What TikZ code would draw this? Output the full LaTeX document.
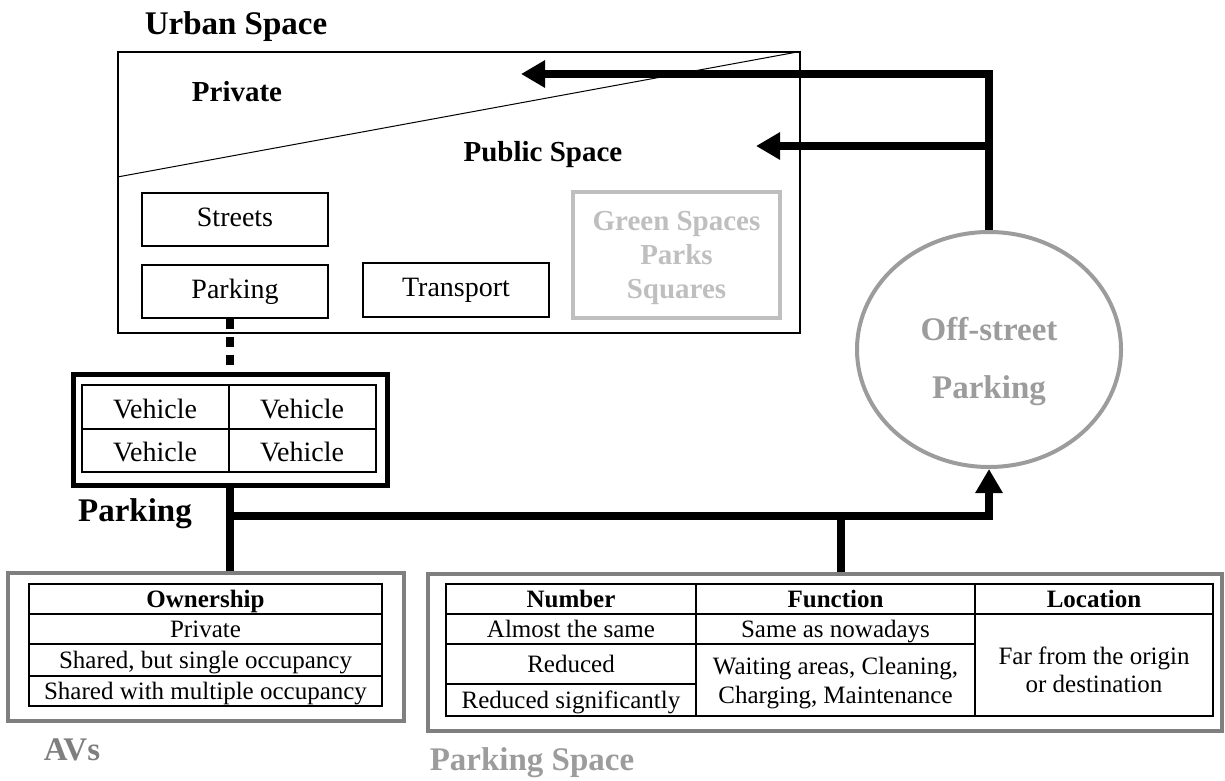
\documentclass[tikz,border=0pt]{standalone}
\usepackage{fontspec}
\setmainfont{Liberation Serif}
\usetikzlibrary{arrows.meta,positioning,shapes.geometric}
\definecolor{lightline}{HTML}{BFBFBF}
\definecolor{midline}{HTML}{9C9C9C}
\definecolor{darkline}{HTML}{7F7F7F}
\tikzset{
  box/.style={draw, line width=.6pt, inner sep=0pt},
  even/.style={text height=.68em, text depth=0pt},
  bigtitle/.style={even, yshift=-2pt, font=\fontsize{16.5}{18}\selectfont\bfseries},
  heading/.style={even, yshift=-1.5pt, font=\fontsize{14.5}{17}\selectfont\bfseries},
  boxtext/.style={even, font=\fontsize{14}{16}\selectfont},
  cell/.style={even, yshift=-.5pt, font=\fontsize{12.5}{14}\selectfont},
  cellhead/.style={even, yshift=-.5pt, font=\fontsize{12.5}{14}\selectfont\bfseries},
  flow/.style={line width=4pt},
  tip/.style={-{Triangle[length=12pt,width=13pt]}}
}
\begin{document}
\begin{tikzpicture}[x=.5pt,y=-.5pt]
\useasboundingbox (0,0) rectangle (1225,781);

% urban space
\node[box, minimum width=341pt, minimum height=140.5pt] (urban) at (459,192.5) {};
\draw[line width=.5pt] (urban.west |- 0,177) -- (urban.north east);
\node[bigtitle] (urbantitle) at (236,24) {Urban Space};
\node[heading] (private) at (237,92) {Private};
\node[heading] (public) at (543,152) {Public Space};
\node[box, boxtext, minimum width=93pt, minimum height=26.5pt] (streets) at (235,219.5) {Streets};
\node[box, boxtext, minimum width=93pt, minimum height=26.5pt] (parkbox) at (235,291.5) {Parking};
\node[box, boxtext, minimum width=93pt, minimum height=27pt] (transport) at (456,290) {Transport};
\node[draw=lightline, line width=2pt, minimum width=103.5pt, minimum height=63pt] (green) at (676.5,255) {};
\node[text=lightline, align=center, font=\fontsize{14.5}{17}\selectfont\bfseries] (greentext) at (676.5,258)
  {Green Spaces\\Parks\\Squares};

% off-street parking
\node[ellipse, draw=midline, line width=2pt, minimum width=132pt, minimum height=117.5pt] (offstreet) at (989,349.5) {};
\node[text=midline, align=center, font=\fontsize{16.5}{29}\selectfont\bfseries] (offtext) at (989,362)
  {Off-street\\Parking};

% vehicles
\node[draw, line width=2.5pt, minimum width=157pt, minimum height=55.5pt] (vehicles) at (230,429.5) {};
\draw[line width=.6pt] (82,385) rectangle (376,472);
\draw[line width=.6pt] (229,385) -- (229,472);
\draw[line width=.6pt] (82,429) -- (376,429);
\node[boxtext] (veha) at (155,412) {Vehicle};
\node[boxtext] (vehb) at (302,412) {Vehicle};
\node[boxtext] (vehc) at (155,455) {Vehicle};
\node[boxtext] (vehd) at (302,455) {Vehicle};
\node[bigtitle] (parkinglabel) at (135,511) {Parking};

% AVs
\node[draw=darkline, line width=2pt, minimum width=198pt, minimum height=74pt] (avs) at (206,647) {};
\draw[line width=.6pt] (29,584) rectangle (382,706);
\foreach \y in {614,644,676}
  \draw[line width=.6pt] (29,\y) -- (382,\y);
\node[cellhead] (owner) at (205.5,600) {Ownership};
\node[cell] (ownpriv) at (205.5,630) {Private};
\node[cell] (ownsingle) at (205.5,661) {Shared, but single occupancy};
\node[cell] (ownmulti) at (205.5,692) {Shared with multiple occupancy};
\node[bigtitle, text=darkline] (avlabel) at (72,750) {AVs};

% parking space
\node[draw=darkline, line width=2pt, minimum width=397pt, minimum height=78.5pt] (pspace) at (825,652.5) {};
\draw[line width=.6pt] (446,584) rectangle (1213,716);
\draw[line width=.6pt] (696,584) -- (696,716);
\draw[line width=.6pt] (975,584) -- (975,716);
\draw[line width=.6pt] (446,614) -- (1213,614);
\draw[line width=.6pt] (446,644) -- (975,644);
\draw[line width=.6pt] (446,684) -- (696,684);
\node[cellhead] (numhead) at (571,600) {Number};
\node[cellhead] (funhead) at (835.5,600) {Function};
\node[cellhead] (lochead) at (1094,600) {Location};
\node[cell] (numsame) at (571,630) {Almost the same};
\node[cell] (numred) at (571,665) {Reduced};
\node[cell] (numsig) at (571,701) {Reduced significantly};
\node[cell] (funsame) at (835.5,630) {Same as nowadays};
\node[align=center, font=\fontsize{12.5}{14.5}\selectfont] (funnew) at (835.5,683) {Waiting areas, Cleaning,\\Charging, Maintenance};
\node[align=center, font=\fontsize{12.5}{14}\selectfont] (locfar) at (1094,670) {Far from the origin\\or destination};
\node[bigtitle, text=midline] (pslabel) at (532,760) {Parking Space};

% connectors
\coordinate (tipa) at (521,74);
\coordinate (tipb) at (756,146);
\coordinate (branch) at (841,516);
\draw[flow, tip] (offstreet.north) -- (offstreet.north |- tipa) -- (tipa);
\draw[flow, tip] (offstreet.north |- tipb) -- (tipb);
\draw[line width=4pt, dash pattern=on 5pt off 4pt] (vehicles.north |- parkbox.south) -- (vehicles.north);
\draw[flow] (vehicles.south) -- (vehicles.south |- avs.north);
\draw[flow, tip] (vehicles.south |- branch) -- (offstreet.south |- branch) -- (offstreet.south);
\draw[flow] (branch) -- (branch |- pspace.north);
\end{tikzpicture}
\end{document}
